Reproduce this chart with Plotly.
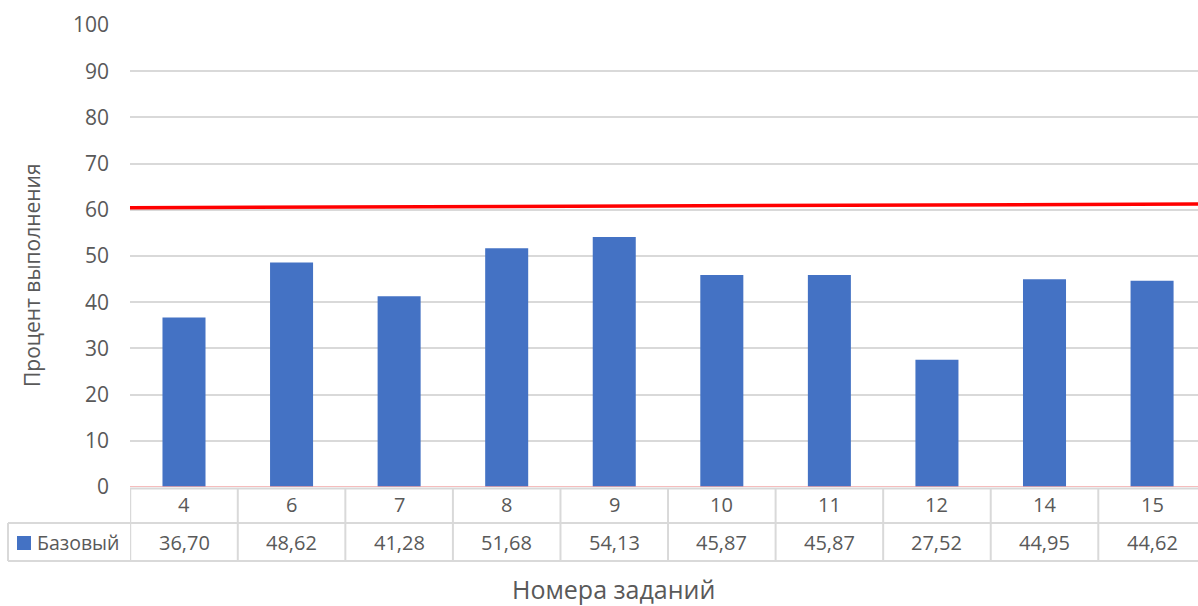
import plotly.graph_objects as go

categories = ["4", "6", "7", "8", "9", "10", "11", "12", "14", "15"]
values = [36.70, 48.62, 41.28, 51.68, 54.13, 45.87, 45.87, 27.52, 44.95, 44.62]
series_name = "Базовый"
threshold_start = 60.45
threshold_end = 61.25
y_ticks = list(range(0, 101, 10))

FONT = "Open Sans"
TXT = "#595959"
GRID = "#d9d9d9"
BLUE = "#4472c4"

xs = list(range(len(categories)))

fig = go.Figure()
fig.add_trace(go.Bar(x=xs, y=values, width=0.4, marker=dict(color=BLUE, line=dict(width=0)),
                     name=series_name, showlegend=False, hoverinfo="y"))

# paper-y helper: plot area from pixel 25 (top) to 487 (bottom)
def py(pix):
    return (487 - pix) / 462.0

def px(pix):
    return (pix - 130) / 1068.0

shapes = []
# threshold red line
shapes.append(dict(type="line", xref="paper", yref="y", x0=0, x1=1,
                   y0=threshold_start, y1=threshold_end,
                   line=dict(color="#ff0000", width=3.5)))
# table horizontal lines
shapes.append(dict(type="line", xref="paper", yref="paper", x0=0, x1=1.02,
                   y0=py(488.5), y1=py(488.5), line=dict(color=GRID, width=2)))
shapes.append(dict(type="line", xref="paper", yref="paper", x0=px(8), x1=1.02,
                   y0=py(523), y1=py(523), line=dict(color=GRID, width=2)))
shapes.append(dict(type="line", xref="paper", yref="paper", x0=px(8), x1=1.02,
                   y0=py(561), y1=py(561), line=dict(color=GRID, width=2)))
# left border of legend cell
shapes.append(dict(type="line", xref="paper", yref="paper", x0=px(8), x1=px(8),
                   y0=py(523), y1=py(561), line=dict(color=GRID, width=2)))
# vertical column borders
for i in range(len(categories) + 1):
    shapes.append(dict(type="line", xref="x", yref="paper", x0=i - 0.5, x1=i - 0.5,
                       y0=py(488.5), y1=py(561), line=dict(color=GRID, width=2)))
# legend marker
shapes.append(dict(type="rect", xref="paper", yref="paper", x0=px(17), x1=px(31),
                   y0=py(550), y1=py(536), fillcolor=BLUE, line=dict(width=0)))
# pink zero line
shapes.append(dict(type="line", xref="paper", yref="y", x0=0, x1=1, y0=0, y1=0,
                   line=dict(color="#f2a7a7", width=1.5)))

annotations = []
for i, (c, v) in enumerate(zip(categories, values)):
    annotations.append(dict(x=i, y=py(505), xref="x", yref="paper", text=c, showarrow=False,
                            xanchor="center", yanchor="middle",
                            font=dict(family=FONT, size=20, color=TXT)))
    annotations.append(dict(x=i, y=py(542), xref="x", yref="paper",
                            text=f"{v:.2f}".replace(".", ","), showarrow=False,
                            xanchor="center", yanchor="middle",
                            font=dict(family=FONT, size=20, color=TXT)))
annotations.append(dict(x=px(35), y=py(542), xref="paper", yref="paper", text=series_name,
                        xanchor="left", yanchor="middle", showarrow=False,
                        font=dict(family=FONT, size=19.5, color=TXT)))
annotations.append(dict(x=px(32), y=py(275), xref="paper", yref="paper",
                        text="Процент выполнения", textangle=-90, showarrow=False,
                        xanchor="center", yanchor="middle",
                        font=dict(family=FONT, size=21, color=TXT)))
annotations.append(dict(x=px(613), y=py(589), xref="paper", yref="paper",
                        text="Номера заданий", showarrow=False,
                        xanchor="center", yanchor="middle",
                        font=dict(family=FONT, size=25, color=TXT)))

fig.update_layout(
    width=1198, height=606,
    margin=dict(l=130, r=0, t=25, b=119),
    plot_bgcolor="white", paper_bgcolor="white",
    showlegend=False,
    bargap=0.6,
    xaxis=dict(range=[-0.502, 9.427], showticklabels=False, showgrid=False,
               zeroline=False, showline=False, ticks="", fixedrange=True),
    yaxis=dict(range=[0, 100], tickvals=y_ticks, showgrid=True, gridcolor=GRID, gridwidth=1.5,
               zeroline=False, showline=False, ticks="", ticklabelstandoff=20,
               tickfont=dict(family=FONT, size=21, color=TXT), fixedrange=True),
    shapes=shapes,
    annotations=annotations,
)

fig.write_html("out.html", config={"displayModeBar": False},
               post_script="document.body.style.margin='0';")
